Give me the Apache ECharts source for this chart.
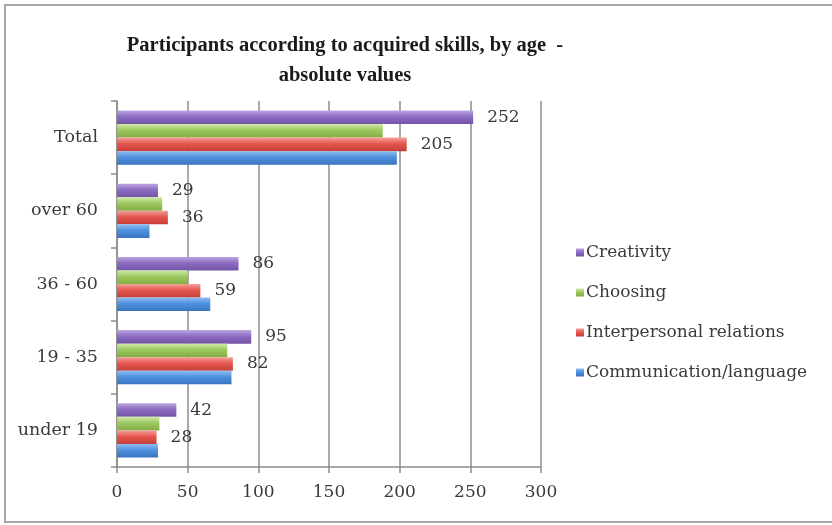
<!DOCTYPE html>
<html>
<head>
<meta charset="utf-8">
<script src="https://cdn.jsdelivr.net/npm/echarts@6/dist/echarts.min.js"></script>
<style>html,body{margin:0;padding:0;background:#fff}#c{width:832px;height:525px}</style>
</head>
<body>
<div id="c"></div>
<script>
const categories = ['under 19', '19 - 35', '36 - 60', 'over 60', 'Total'];
const communication = [29, 81, 66, 23, 198];
const interpersonal = [28, 82, 59, 36, 205];
const choosing = [30, 78, 50, 32, 188];
const creativity = [42, 95, 86, 29, 252];
const xTicks = [0, 50, 100, 150, 200, 250, 300];

const chart = echarts.init(document.getElementById('c'));
const serif = 'DejaVu Serif';
function grad(light, main, dark) {
  return new echarts.graphic.LinearGradient(0, 0, 0, 1, [
    {offset: 0, color: light}, {offset: 0.45, color: main}, {offset: 1, color: dark}
  ]);
}
const lbl = {show: true, position: 'right', distance: 14, color: '#3a3a3a', fontFamily: serif, fontSize: 17};
function mk(name, data, c, showLabel) {
  return {
    name, type: 'bar', data, barGap: '0%', barCategoryGap: '26%',
    itemStyle: {color: c},
    label: showLabel ? lbl : {show: false},
    emphasis: {disabled: true}
  };
}
chart.setOption({
  animation: false,
  graphic: [{type: 'rect', shape: {x: 5, y: 5, width: 840, height: 517}, style: {fill: 'none', stroke: '#a8a8a8', lineWidth: 2}}],
  title: {
    text: 'Participants according to acquired skills, by age  -\nabsolute values',
    left: 340, top: 26, textAlign: 'center',
    textStyle: {fontFamily: 'Liberation Serif', fontWeight: 'bold', fontSize: 20.5, color: '#1a1a1a', lineHeight: 30}
  },
  legend: {
    orient: 'vertical', left: 571, top: 239, itemWidth: 8, itemHeight: 8, itemGap: 23,
    icon: 'rect',
    data: ['Creativity', 'Choosing', 'Interpersonal relations', 'Communication/language'],
    textStyle: {fontFamily: serif, fontSize: 17, color: '#3a3a3a', padding: [0,0,0,-3]}
  },
  grid: {left: 117, right: 291, top: 101, bottom: 58},
  xAxis: {
    type: 'value', min: 0, max: 300, interval: 50,
    axisLine: {show: true, lineStyle: {color: '#8c8c8c', width: 1.5}},
    axisTick: {show: true, length: 6, lineStyle: {color: '#8c8c8c', width: 1.5}},
    splitLine: {show: true, lineStyle: {color: '#8c8c8c', width: 1.5}},
    axisLabel: {fontFamily: serif, fontSize: 17, color: '#3a3a3a', margin: 17,
      formatter: v => xTicks.includes(v) ? String(v) : ''}
  },
  yAxis: {
    type: 'category', data: categories,
    axisLine: {show: true, lineStyle: {color: '#8c8c8c', width: 1.5}},
    axisTick: {show: true, length: 6, lineStyle: {color: '#8c8c8c', width: 1.5}},
    axisLabel: {fontFamily: serif, fontSize: 17.5, color: '#3a3a3a', margin: 19}
  },
  series: [
    mk('Creativity', creativity, grad('#bba6df', '#8d6cc2', '#7254a6'), true),
    mk('Choosing', choosing, grad('#cfe8a8', '#9cc95e', '#82ad45'), false),
    mk('Interpersonal relations', interpersonal, grad('#f3a09b', '#e5574f', '#c53e37'), true),
    mk('Communication/language', communication, grad('#8fbdf0', '#4f91e0', '#3a73c0'), false)
  ]
});
</script>
</body>
</html>
